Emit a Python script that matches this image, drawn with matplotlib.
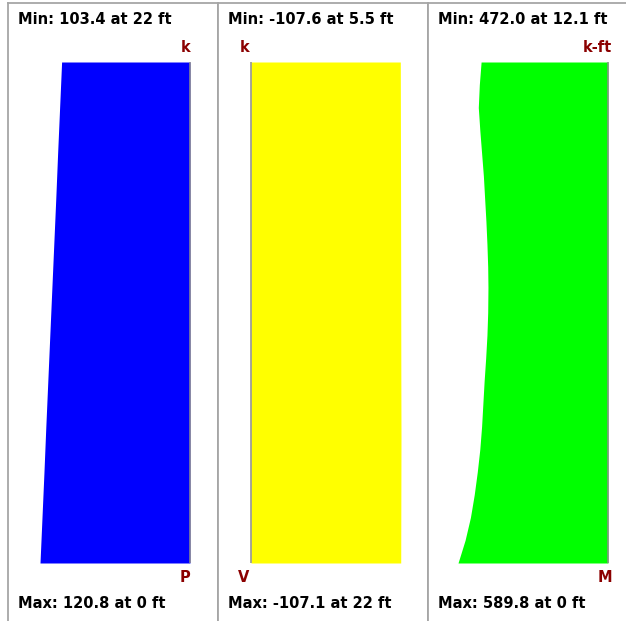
import matplotlib.pyplot as plt

# figure size in pixels
W, H = 626, 621

# axial force P (k) along the height (ft)
p_height = [0, 2, 4, 6, 8, 10, 12, 14, 16, 18, 20, 22]
p_vals = [120.8, 119.2, 117.6, 116.1, 114.5, 112.9, 111.3, 109.7, 108.1, 106.6, 105.0, 103.4]

# shear V (k)
v_height = [0, 5.5, 8, 12, 16, 22]
v_vals = [-107.4, -107.6, -107.5, -107.4, -107.3, -107.1]

# moment M (k-ft)
m_height = [0, 1, 2, 3, 4, 5, 6, 7, 8, 9, 10, 11, 12.1, 13, 14, 15, 16, 17, 18, 19, 20, 21, 22]
m_vals = [589.8, 562, 541, 526, 514, 504, 497, 492, 487, 481, 476, 473, 472.0,
          473, 476, 480, 485, 490, 497, 504, 510, 506, 499]

min_labels = ['Min: 103.4 at 22 ft', 'Min: -107.6 at 5.5 ft', 'Min: 472.0 at 12.1 ft']
max_labels = ['Max: 120.8 at 0 ft', 'Max: -107.1 at 22 ft', 'Max: 589.8 at 0 ft']
units = ['k', 'k', 'k-ft']
names = ['P', 'V', 'M']

fig = plt.figure(figsize=(W / 100, H / 100), dpi=100)
fig.patch.set_facecolor('white')

font = dict(family='DejaVu Sans', weight='bold', fontsize=10.5)
dark_red = '#8b0000'

# layout in pixels
panel_w = 210
top_px, bot_px = 3, 640
y0_px, y22_px = 563, 62        # pixel rows of 0 ft and 22 ft
ppf = (y0_px - y22_px) / 22.0  # pixels per foot
bar_px = 150                   # pixel length of the largest value


def px(x, y):
    return x / W, 1 - y / H


series = [
    (p_height, p_vals, '#0000ff', 8, 190, 120.8),
    (v_height, v_vals, '#ffff00', 218, 251, 107.6),
    (m_height, m_vals, '#00ff00', 428, 608, 589.8),
]

for i, (z, v, col, left, base, vmax) in enumerate(series):
    ax = fig.add_axes([left / W, 1 - bot_px / H, panel_w / W, (bot_px - top_px) / H])
    s = vmax / bar_px
    # positive values drawn to the left of the base line
    ax.set_xlim((base - left) * s, -(left + panel_w - base) * s)
    ax.set_ylim(-(bot_px - y0_px) / ppf, 22 + (y22_px - top_px) / ppf)
    ax.fill_betweenx(z, 0, v, color=col, lw=0, antialiased=False)
    ax.plot([0, 0], [0, 22], color='#8c8c8c', lw=1.1, solid_capstyle='butt')
    ax.set_xticks([])
    ax.set_yticks([])
    for side in ['top', 'left', 'right']:
        ax.spines[side].set_color('#a6a6a6')
        ax.spines[side].set_linewidth(1.3)
    ax.spines['bottom'].set_visible(False)

    fig.text(*px(left + 10, 20), min_labels[i], ha='left', va='center', color='black', **font)
    fig.text(*px(left + 10, 603), max_labels[i], ha='left', va='center', color='black', **font)

# unit and name labels
fig.text(*px(190, 47), units[0], ha='right', va='center', color=dark_red, **font)
fig.text(*px(190, 578), names[0], ha='right', va='center', color=dark_red, **font)
fig.text(*px(240, 47), units[1], ha='left', va='center', color=dark_red, **font)
fig.text(*px(238, 578), names[1], ha='left', va='center', color=dark_red, **font)
fig.text(*px(612, 47), units[2], ha='right', va='center', color=dark_red, **font)
fig.text(*px(612, 578), names[2], ha='right', va='center', color=dark_red, **font)

fig.savefig('out.png', dpi=100)
